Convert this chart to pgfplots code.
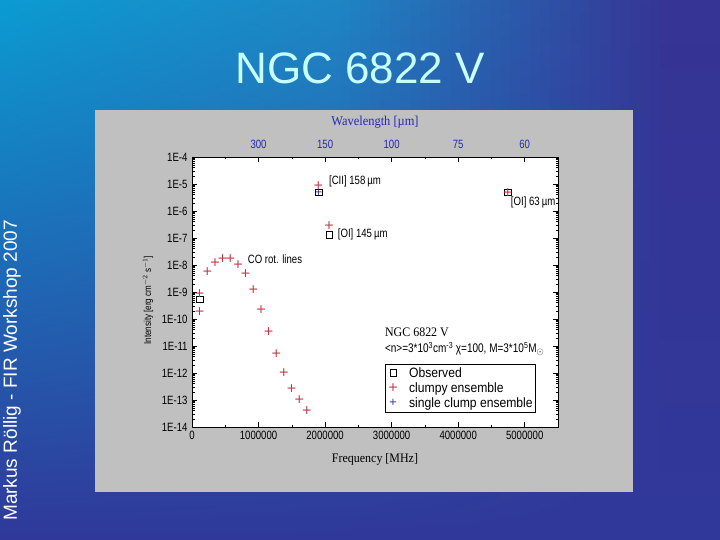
\documentclass[border=0pt]{standalone}
\usepackage{fontspec}
\setmainfont{Liberation Sans}
\newfontfamily\nsans{Liberation Sans}[FakeStretch=0.8]
\newfontfamily\lsans{Liberation Sans}[FakeStretch=0.9]
\newfontfamily\tms{Liberation Serif}[FakeStretch=0.92]
\newfontfamily\djv{DejaVu Sans}
\usepackage{pgfplots}
\pgfplotsset{compat=1.18}
\definecolor{bgcyan}{RGB}{11,155,210}
\definecolor{bgmid}{RGB}{30,134,196}
\definecolor{bgindigo}{RGB}{54,52,149}
\definecolor{bgbottom}{RGB}{48,56,153}
\definecolor{panel}{RGB}{192,192,192}
\definecolor{ptred}{RGB}{200,48,64}
\definecolor{ptblue}{RGB}{40,40,150}
\definecolor{lblblue}{RGB}{40,40,180}
\definecolor{titlecol}{RGB}{200,255,255}

\begin{document}
\begin{tikzpicture}
% slide background, drawn in vertical strips
\begin{scope}[x=1bp,y=1bp]
\useasboundingbox (0,0) rectangle (720,540);
\foreach \i in {0,...,71} {
  \pgfmathsetmacro{\xa}{\i*10}
  \pgfmathsetmacro{\pa}{min(100,\xa/330*100)}
  \pgfmathsetmacro{\pb}{max(0,min(100,(\xa-330)/330*100))}
  \colorlet{tc}{bgmid!\pa!bgcyan}
  \colorlet{tc}{bgindigo!\pb!tc}
  \colorlet{mc}{tc!55!bgbottom}
  \shade[top color=tc, middle color=mc, bottom color=bgbottom, draw=none]
    (\xa,0) rectangle (\xa+10.6,540);
}
\node[text=titlecol, inner sep=0] at (360,472) {\fontsize{44bp}{50bp}\selectfont NGC 6822 V};
\node[rotate=90, anchor=west, text=white, inner sep=0] at (12,19)
  {\fontsize{19bp}{22bp}\selectfont Markus Röllig - FIR Workshop 2007};
\fill[panel] (95,48) rectangle (633,430);
\end{scope}

% main axis: frequency vs intensity
\begin{axis}[
  at={(192bp,113bp)}, anchor=south west, scale only axis,
  width=366bp, height=270bp,
  ymode=log, xmin=0, xmax=5.5e6, ymin=1e-14, ymax=1e-4,
  clip=false, axis background/.style={fill=white},
  xtick={0,1e6,2e6,3e6,4e6,5e6},
  xticklabels={0,1000000,2000000,3000000,4000000,5000000},
  scaled x ticks=false, minor x tick num=1,
  ytickten={-14,-13,-12,-11,-10,-9,-8,-7,-6,-5,-4},
  yticklabels={1E-14,1E-13,1E-12,1E-11,1E-10,1E-9,1E-8,1E-7,1E-6,1E-5,1E-4},
  tick label style={font={\nsans\fontsize{12bp}{13bp}\selectfont}},
  xticklabel style={yshift=-1bp},
  yticklabel style={xshift=-1bp},
  major tick length=5bp, minor tick length=2.5bp,
  tick style={black, line width=0.5pt},
  axis line style={line width=0.8pt},
  xlabel={Frequency [MHz]},
  xlabel style={at={(axis description cs:0.5,-0.1185)}, anchor=center,
    font={\tms\fontsize{13bp}{15bp}\selectfont}},
  ylabel={Intensity [erg cm$^{-2}$ s$^{-1}$]},
  ylabel style={at={(axis description cs:-0.12,0.47)}, anchor=center,
    font={\nsans\fontsize{10bp}{12bp}\selectfont}},
  legend style={at={(0.527,0.233)}, anchor=north west, draw=black,
    line width=0.5pt, fill=white,
    font={\lsans\fontsize{13.5bp}{16bp}\selectfont},
    inner xsep=1bp, inner ysep=1bp, row sep=0bp},
  legend image code/.code={\draw[#1, only marks] plot coordinates {(7bp,0bp)};
    \path[draw=none, fill=none] (0bp,0bp) (21bp,0bp);},
  legend cell align=left,
]
\addplot[only marks, mark=square, mark size=3.3bp, black,
  mark options={draw=black, line width=0.5pt}]
  coordinates {(115271,5.4e-10)(1900537,5.0e-6)(2060069,1.35e-7)(4744777,5.0e-6)};
\addlegendentry{Observed}
\addplot[only marks, mark=text, text mark={\makebox[0pt]{+}}, text mark as node=true,
  text mark style={text=ptred, inner sep=0pt, anchor=center,
    font=\djv\fontsize{12.5bp}{12.5bp}\selectfont}]
  coordinates {
  (115271,8.4e-10)(115271,1.86e-10)(230538,5.65e-9)(345796,1.26e-8)
  (461041,1.77e-8)(576268,1.67e-8)(691473,1.06e-8)(806652,4.77e-9)
  (921800,1.26e-9)(1036912,2.29e-10)(1151985,3.5e-11)(1267015,5.37e-12)
  (1381995,1.06e-12)(1496923,2.71e-13)(1611794,1.06e-13)(1726603,4.0e-14)
  (1900537,8.4e-6)(2060069,3.0e-7)(4744777,5.0e-6)};
\addlegendentry{clumpy ensemble}
\addplot[only marks, mark=text, text mark={\makebox[0pt]{+}}, text mark as node=true,
  text mark style={text=ptblue, inner sep=0pt, anchor=center,
    font=\djv\fontsize{10bp}{10bp}\selectfont}]
  coordinates {(1900537,5.0e-6)};
\addlegendentry{single clump ensemble}

\node[anchor=west, inner sep=0, font={\nsans\fontsize{12bp}{14bp}\selectfont}]
  at (axis cs:2.057e6,1.29e-5) {[CII] 158\,µm};
\node[anchor=west, inner sep=0, font={\nsans\fontsize{12bp}{14bp}\selectfont}]
  at (axis cs:4.79e6,2.15e-6) {[OI] 63\,µm};
\node[anchor=west, inner sep=0, font={\nsans\fontsize{12bp}{14bp}\selectfont}]
  at (axis cs:2.19e6,1.41e-7) {[OI] 145\,µm};
\node[anchor=west, inner sep=0, font={\nsans\fontsize{12bp}{14bp}\selectfont}]
  at (axis cs:0.836e6,1.67e-8) {CO rot. lines};
\node[anchor=west, inner sep=0, font={\tms\fontsize{13bp}{15bp}\selectfont}]
  at (axis cs:2.898e6,3.3e-11) {NGC 6822 V};
\node[anchor=west, inner sep=0, font={\nsans\fontsize{12.5bp}{14bp}\selectfont}]
  at (axis cs:2.898e6,7.7e-12)
  {<n>=3*10\textsuperscript{3}cm\textsuperscript{-3} χ=100, M=3*10\textsuperscript{5}M$_\odot$};
\end{axis}

% top axis: wavelength labels
\begin{axis}[
  at={(192bp,113bp)}, anchor=south west, scale only axis,
  width=366bp, height=270bp,
  xmin=0, xmax=5.5e6, ymin=0, ymax=1,
  hide y axis, axis line style={draw=none},
  xtick pos=upper, xticklabel pos=upper,
  xtick={1e6,2e6,3e6,4e6,5e6}, xticklabels={300,150,100,75,60},
  scaled x ticks=false, minor x tick num=1,
  tick label style={text=lblblue, font={\nsans\fontsize{12bp}{13bp}\selectfont}},
  xticklabel style={yshift=5bp},
  major tick length=5bp, minor tick length=2.5bp,
  tick style={black, line width=0.5pt},
  xlabel={Wavelength [µm]},
  xlabel style={at={(axis description cs:0.5,1.13)}, anchor=center, text=lblblue,
    font={\tms\fontsize{13.5bp}{15bp}\selectfont}},
]
\addplot[draw=none] coordinates {(0,0.5)};
\end{axis}
\end{tikzpicture}
\end{document}
